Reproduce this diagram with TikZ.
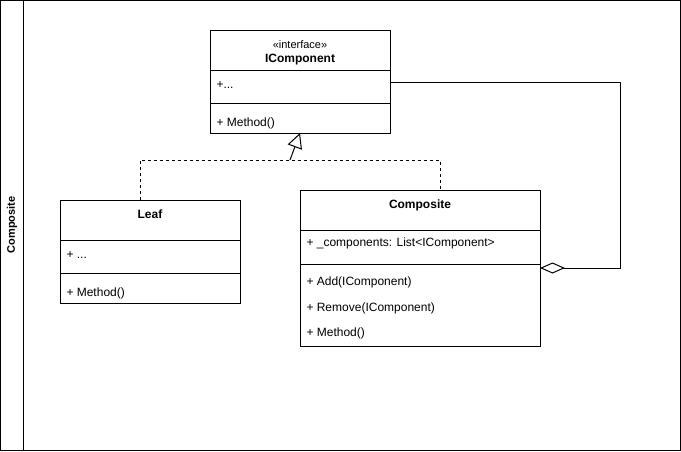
\documentclass[tikz,border=0pt]{standalone}
\usepackage{fontspec}
\setmainfont{Liberation Sans}
\usepackage{tikz}
\usetikzlibrary{arrows.meta,positioning}

\begin{document}
\begin{tikzpicture}[
  x=1pt,y=-1pt,line width=1pt,
  font=\fontsize{12}{14}\selectfont,
  sec/.style={draw,rectangle,inner sep=0pt,outer sep=0pt},
  item/.style={anchor=west,inner sep=0pt},
  realize/.style={dash pattern=on 3pt off 3pt},
  realtip/.style={-{Triangle[open,length=15pt,width=15pt]}},
  aggr/.style={-{Diamond[open,length=25pt,width=11pt]}}
]
% frame and side title
\node[sec,minimum width=680pt,minimum height=450pt,anchor=north west] (frame) at (0.5,0.5) {};
\draw (23,0.5) -- (23,450.5);
\node[rotate=90,font=\fontsize{11}{13}\selectfont\bfseries] (title) at (12,225) {Composite};

% IComponent
\node[sec,minimum width=180pt,minimum height=40pt] (icHead) at (300,50) {};
\node[sec,minimum width=180pt,minimum height=33pt,below=0pt of icHead] (icAttr) {};
\node[sec,minimum width=180pt,minimum height=30pt,below=0pt of icAttr] (icOps) {};
\node[inner sep=0pt] (icStereo) at (300,45) {\fontsize{11}{13}\selectfont «interface»};
\node[inner sep=0pt,font=\fontsize{12}{14}\selectfont\bfseries] (icName) at (300,60) {IComponent};
\node[item] (icA1) at (216,85) {+...};
\node[item] (icM1) at (216,123) {+ Method()};

% Leaf
\node[sec,minimum width=180pt,minimum height=40pt] (leafHead) at (150,220) {};
\node[sec,minimum width=180pt,minimum height=33pt,below=0pt of leafHead] (leafAttr) {};
\node[sec,minimum width=180pt,minimum height=30pt,below=0pt of leafAttr] (leafOps) {};
\node[inner sep=0pt,font=\fontsize{12}{14}\selectfont\bfseries] (leafName) at (150,214) {Leaf};
\node[item] (leafA1) at (66,255) {+ ...};
\node[item] (leafM1) at (66,293) {+ Method()};

% Composite
\node[sec,minimum width=240pt,minimum height=40pt] (compHead) at (420,210) {};
\node[sec,minimum width=240pt,minimum height=34pt,below=0pt of compHead] (compAttr) {};
\node[sec,minimum width=240pt,minimum height=82pt,below=0pt of compAttr] (compOps) {};
\node[inner sep=0pt,font=\fontsize{12}{14}\selectfont\bfseries] (compName) at (420,205) {Composite};
\node[item] (compA1) at (306,243) {+ \_components: List<IComponent>};
\node[item] (compM1) at (306,282) {+ Add(IComponent)};
\node[item] (compM2) at (306,308) {+ Remove(IComponent)};
\node[item] (compM3) at (306,333) {+ Method()};

% realization
\coordinate (joint) at (290,160);
\draw[realize] ([xshift=-10pt]leafHead.north) |- (joint) -| ([xshift=20pt]compHead.north);
\draw[realtip] (joint) -- (icOps.south);

% aggregation
\coordinate (aggTop) at (620,82);
\coordinate (aggCorner) at (620,268);
\draw[aggr] (icAttr.east |- aggTop) -- (aggTop) -- (aggCorner) -- (compOps.east |- aggCorner);
\end{tikzpicture}
\end{document}
